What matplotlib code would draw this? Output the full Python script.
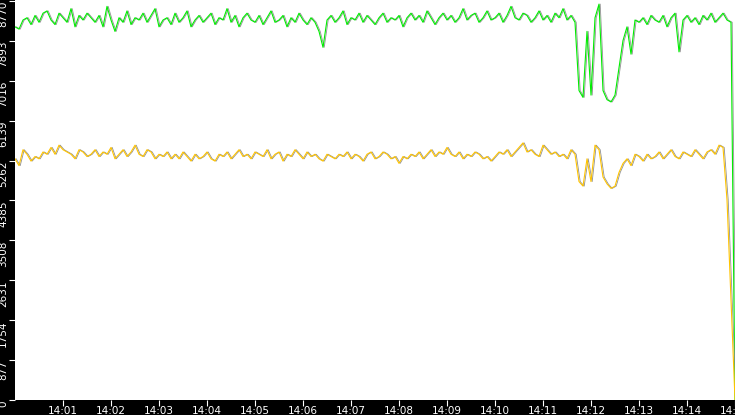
import numpy as np
import matplotlib.pyplot as plt

# values sampled every 5 s from 14:00:00
green = [8200, 8150, 8350, 8400, 8250, 8450, 8300, 8500, 8550, 8350, 8250, 8500, 8400, 8300, 8600, 8200, 8450, 8350, 8500, 8400,
         8300, 8450, 8200, 8650, 8350, 8100, 8400, 8300, 8550, 8250, 8400, 8350, 8500, 8300, 8450, 8600, 8200, 8350, 8400, 8250,
         8500, 8300, 8400, 8550, 8200, 8350, 8450, 8300, 8400, 8500, 8250, 8400, 8350, 8600, 8300, 8450, 8200, 8400, 8500, 8350,
         8300, 8450, 8250, 8400, 8550, 8300, 8350, 8450, 8200, 8400, 8300, 8500, 8350, 8250, 8400, 8300, 8100, 7750, 8350, 8450,
         8300, 8400, 8550, 8250, 8400, 8350, 8500, 8300, 8450, 8350, 8250, 8400, 8500, 8300, 8400, 8350, 8450, 8200, 8400, 8500,
         8350, 8450, 8300, 8550, 8400, 8250, 8400, 8500, 8350, 8450, 8300, 8400, 8600, 8350, 8450, 8500, 8300, 8400, 8550, 8350,
         8400, 8500, 8300, 8450, 8650, 8400, 8350, 8500, 8450, 8300, 8400, 8550, 8350, 8450, 8300, 8500, 8400, 8600, 8350, 8450,
         8300, 6800, 6650, 8100, 6700, 8400, 8700, 6800, 6600, 6550, 6700, 7300, 7900, 8200, 7600, 8350, 8300, 8400, 8250, 8450,
         8350, 8300, 8450, 8200, 8400, 8500, 7650, 8350, 8450, 8300, 8400, 8250, 8450, 8350, 8500, 8300, 8400, 8500, 8350, 8300,
         0]
yellow = [5300, 5150, 5500, 5400, 5250, 5350, 5300, 5450, 5400, 5550, 5400, 5600, 5500, 5450, 5400, 5300, 5500, 5450, 5350, 5400,
          5500, 5350, 5450, 5400, 5550, 5300, 5400, 5500, 5350, 5450, 5600, 5400, 5350, 5500, 5450, 5300, 5400, 5350, 5450, 5300,
          5400, 5300, 5450, 5350, 5250, 5400, 5300, 5350, 5450, 5300, 5250, 5400, 5350, 5450, 5300, 5400, 5500, 5350, 5400, 5300,
          5450, 5400, 5350, 5500, 5300, 5400, 5450, 5250, 5400, 5350, 5500, 5400, 5300, 5450, 5350, 5400, 5300, 5250, 5400, 5350,
          5300, 5400, 5350, 5450, 5300, 5400, 5350, 5250, 5400, 5450, 5300, 5350, 5450, 5400, 5300, 5350, 5200, 5350, 5300, 5400,
          5350, 5450, 5300, 5400, 5500, 5350, 5450, 5400, 5550, 5400, 5350, 5450, 5300, 5400, 5350, 5450, 5400, 5300, 5350, 5250,
          5350, 5450, 5400, 5500, 5350, 5450, 5550, 5650, 5450, 5500, 5400, 5350, 5600, 5500, 5400, 5450, 5350, 5400, 5300, 5500,
          5400, 4800, 4700, 5300, 4800, 5600, 5500, 4900, 4750, 4650, 4700, 5000, 5200, 5300, 5150, 5400, 5350, 5250, 5400, 5300,
          5350, 5450, 5300, 5400, 5500, 5350, 5300, 5450, 5400, 5350, 5500, 5400, 5300, 5450, 5500, 5400, 5600, 5550, 4400,
          0]
t_green = np.arange(len(green)) * 5
t_yellow = np.append(np.arange(len(yellow) - 1) * 5, 900)

yticks = [0, 877, 1754, 2631, 3508, 4385, 5262, 6139, 7016, 7893, 8770]
xticks = np.arange(60, 901, 60)
xlabels = ['14:%02d' % m for m in range(1, 16)]

fig = plt.figure(figsize=(7.35, 4.15), dpi=100, facecolor='black')
ax = fig.add_axes([15 / 735, 15 / 415, 720 / 735, 400 / 415])
ax.set_facecolor('white')

ax.plot(t_green + 1.5, green, color='#909090', lw=0.6)
ax.plot(t_green, green, color='#00ee00', lw=0.8)
ax.plot(t_yellow + 1.5, yellow, color='#909090', lw=0.6)
ax.plot(t_yellow, yellow, color='#ffc400', lw=0.8)

ax.set_xlim(0, 900)
ax.set_ylim(0, 8790)
ax.set_yticks(yticks)
ax.set_yticklabels([str(v) for v in yticks], rotation=90, va='top', fontsize=7.5, color='white')
ax.set_xticks(xticks)
ax.set_xticklabels(xlabels, fontsize=7.5, color='white')
ax.tick_params(axis='y', colors='white', length=4, pad=1)
ax.tick_params(axis='x', colors='white', length=4, pad=0)
for s in ax.spines.values():
    s.set_visible(False)

fig.savefig('out.png', dpi=100, facecolor='black')
